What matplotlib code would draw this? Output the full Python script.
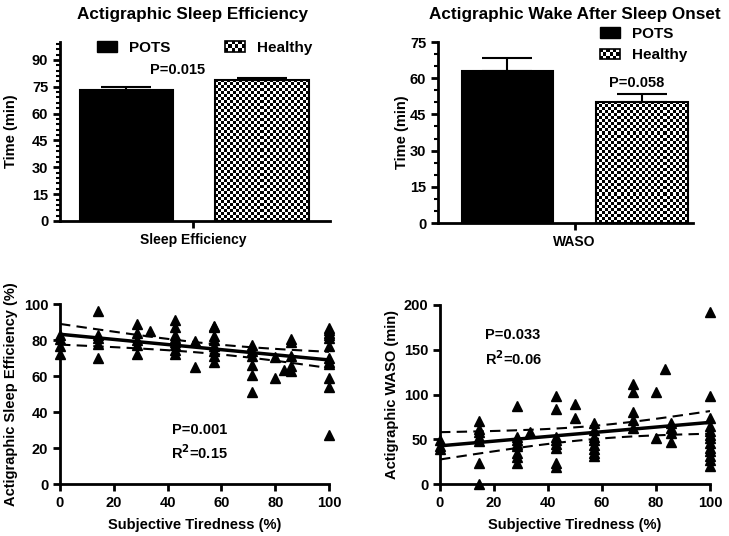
import numpy as np
import matplotlib
matplotlib.use('Agg')
import matplotlib.pyplot as plt
from matplotlib.patches import Rectangle, Patch
from matplotlib.legend_handler import HandlerBase
from matplotlib.ticker import MultipleLocator

plt.rcParams['font.family'] = ['Liberation Sans', 'DejaVu Sans']
plt.rcParams['font.weight'] = 'bold'
plt.rcParams['axes.labelweight'] = 'bold'

# ---- data ----
groups = ['POTS', 'Healthy']
se_mean = [73.0, 79.0]
se_err = [2.0, 0.7]
se_p = 'P=0.015'
waso_mean = [63.0, 50.3]
waso_err = [5.5, 3.3]
waso_p = 'P=0.058'

# subjective tiredness (%) vs actigraphic sleep efficiency (%)
tired_se = ([0]*4 + [14.3]*5 + [28.6]*5 + [33.3] + [42.9]*8 + [50]*2 + [57.1]*8
            + [71.4]*6 + [80]*2 + [83.3] + [85.7]*5 + [100]*12)
sleep_eff = [83, 80.5, 76.5, 72.4,
             96, 83, 81, 78, 70,
             89, 84, 80, 77, 72,
             85,
             91, 87, 83, 81, 79, 77.4, 74.6, 72.4,
             79.6, 65,
             88, 87, 82, 80, 76.5, 74, 71, 67.6,
             77.4, 73.7, 71.3, 66.3, 60.7, 51,
             70.6, 59,
             63.5,
             80.5, 78.7, 71, 65.4, 62.6,
             86.7, 85.4, 84, 82.6, 81, 76.5, 70, 68, 66.8, 59, 54, 27]

# subjective tiredness (%) vs actigraphic WASO (min)
tired_waso = ([0]*3 + [14.3]*7 + [28.6]*8 + [33.3] + [42.9]*8 + [50]*2 + [57.1]*8
              + [71.4]*5 + [80]*2 + [83.3] + [85.7]*4 + [100]*13)
waso = [49, 42, 39,
        70, 62, 58, 53, 48, 24, 0,
        87.7, 53, 49.4, 45, 42, 34.6, 30, 23.4,
        58,
        98.5, 84, 53, 49.4, 45, 40, 23.4, 18.6,
        89.6, 74.3,
        68, 60.6, 53, 49.4, 43.9, 39, 34.6, 30.9,
        111.5, 103, 80, 71.7, 62.5,
        103, 51.3,
        129,
        68, 62.5, 57, 46.5,
        191.8, 98.5, 73.6, 64.3, 58.7, 55, 51.3, 45.7, 40, 36.4, 30.9, 27, 19.7]


class CheckerHandler(HandlerBase):
    # legend box drawn as a small checkerboard
    def create_artists(self, legend, orig_handle, xdescent, ydescent,
                       width, height, fontsize, trans):
        arts = []
        nx, ny = 6, 3
        cw, ch = width / nx, height / ny
        for i in range(nx):
            for j in range(ny):
                fc = 'black' if (i + j) % 2 == 0 else 'white'
                arts.append(Rectangle((-xdescent + i*cw, -ydescent + j*ch), cw, ch,
                                      facecolor=fc, edgecolor='none', transform=trans))
        arts.append(Rectangle((-xdescent, -ydescent), width, height, facecolor='none',
                              edgecolor='black', lw=1.2, transform=trans))
        return arts


def style(ax):
    for s in ['top', 'right']:
        ax.spines[s].set_visible(False)
    for s in ['left', 'bottom']:
        ax.spines[s].set_linewidth(2)
    ax.tick_params(width=2, length=5, labelsize=10.5, direction='out')
    ax.tick_params(which='minor', width=1.5, length=3)


def bar_panel(ax, xs, width, means, errs, ymax, ystep, yminor, tick_x, tick_label):
    style(ax)
    ax.set_xlim(0, 1)
    ax.set_ylim(0, ymax)
    ax.bar(xs[0], means[0], width, color='black', edgecolor='black', lw=1.5, zorder=2)
    ax.bar(xs[1], means[1], width, color='white', edgecolor='none', zorder=2)
    # checkerboard fill for the healthy bar
    x0, x1 = xs[1] - width/2, xs[1] + width/2
    p0 = ax.transData.transform((x0, 0))
    p1 = ax.transData.transform((x1, means[1]))
    nx = int(round((p1[0] - p0[0]) / 3.0))
    ny = int(round((p1[1] - p0[1]) / 3.0))
    checker = np.indices((ny, nx)).sum(axis=0) % 2
    ax.imshow(checker, cmap='gray', extent=(x0, x1, 0, means[1]), interpolation='nearest',
              aspect='auto', zorder=3)
    ax.bar(xs[1], means[1], width, color='none', edgecolor='black', lw=1.5, zorder=4)
    for x, m, e in zip(xs, means, errs):
        ax.errorbar(x, m, yerr=[[0], [e]], color='black', lw=1.5, capsize=18,
                    capthick=1.5, zorder=5)
    ax.set_xlim(0, 1)
    ax.set_ylim(0, ymax)
    ax.set_yticks(np.arange(0, ymax, ystep) if ymax % ystep else np.arange(0, ymax + 1, ystep))
    ax.yaxis.set_minor_locator(MultipleLocator(yminor))
    ax.set_xticks([tick_x])
    ax.set_xticklabels([tick_label], fontsize=10)
    ax.set_ylabel('Time (min)', fontsize=10.5)


fig = plt.figure(figsize=(7.29, 5.36), dpi=100)
W, H = 729.0, 536.0


def axes_px(l, t, r, b):
    return fig.add_axes([l / W, 1 - b / H, (r - l) / W, (b - t) / H])


legend_handles = [Patch(facecolor='black', edgecolor='black'), Patch(facecolor='white')]
handler_map = {legend_handles[1]: CheckerHandler()}

# top left: sleep efficiency bars
ax1 = axes_px(60, 42, 330, 221)
bar_panel(ax1, [0.246, 0.748], 0.345, se_mean, se_err, 100, 15, 3, 0.493, 'Sleep Efficiency')
ax1.yaxis.set_label_coords(-0.155, 0.5)
ax1.text(0.437, 84.5, se_p, ha='center', va='center', fontsize=10.5)
ax1.legend(legend_handles, groups, handler_map=handler_map, loc='upper left',
           bbox_to_anchor=(0.085, 1.085), ncol=2, frameon=False, fontsize=11,
           handlelength=1.3, handleheight=0.7, handletextpad=0.8, columnspacing=3.6)
fig.text(192 / W, 1 - 15 / H, 'Actigraphic Sleep Efficiency', ha='center', va='center',
         fontsize=12.3)

# top right: WASO bars
ax2 = axes_px(438, 42, 693, 223)
bar_panel(ax2, [0.272, 0.8], 0.357, waso_mean, waso_err, 75, 15, 5, 0.536, 'WASO')
ax2.yaxis.set_label_coords(-0.115, 0.5)
ax2.text(0.78, 58, waso_p, ha='center', va='center', fontsize=10.5)
ax2.legend(legend_handles, groups, handler_map=handler_map, loc='upper left',
           bbox_to_anchor=(0.58, 1.16), ncol=1, frameon=False, fontsize=11,
           handlelength=1.3, handleheight=0.7, handletextpad=0.8, labelspacing=0.5)
fig.text(575 / W, 1 - 15 / H, 'Actigraphic Wake After Sleep Onset', ha='center',
         va='center', fontsize=12.3)


def scatter_panel(ax, x, y, ymax, ystep, ylabel, ptxt, pos):
    style(ax)
    x = np.asarray(x, float)
    y = np.asarray(y, float)
    ax.plot(x, y, '^', color='black', ms=6.5, clip_on=False, zorder=3)
    # least squares fit with 95% confidence band
    b, a = np.polyfit(x, y, 1)
    xx = np.linspace(0, 100, 101)
    n = len(x)
    resid = y - (a + b * x)
    s = np.sqrt(np.sum(resid ** 2) / (n - 2))
    se = s * np.sqrt(1.0 / n + (xx - x.mean()) ** 2 / np.sum((x - x.mean()) ** 2))
    fit = a + b * xx
    ax.plot(xx, fit, color='black', lw=2.5, zorder=4)
    ax.plot(xx, fit + 2.0 * se, color='black', lw=1.5, ls=(0, (5, 3)), zorder=4)
    ax.plot(xx, fit - 2.0 * se, color='black', lw=1.5, ls=(0, (5, 3)), zorder=4)
    ax.set_xlim(0, 100)
    ax.set_ylim(0, ymax)
    ax.set_xticks(np.arange(0, 101, 20))
    ax.set_yticks(np.arange(0, ymax + 1, ystep))
    ax.set_xlabel('Subjective Tiredness (%)', fontsize=10.5)
    ax.xaxis.set_label_coords(0.5, -0.19)
    ax.set_ylabel(ylabel, fontsize=10.5)
    ax.text(pos[0], pos[1], ptxt, ha='center', va='center', fontsize=10.5, linespacing=1.45)


ax3 = axes_px(60, 304, 329, 484)
scatter_panel(ax3, tired_se, sleep_eff, 100, 20, 'Actigraphic Sleep Efficiency (%)',
              'P=0.001\nR$^{\\mathbf{2}}$=0.15', (52, 23))
ax3.yaxis.set_label_coords(-0.155, 0.5)

ax4 = axes_px(440, 305, 710, 484)
scatter_panel(ax4, tired_waso, waso, 200, 50, 'Actigraphic WASO (min)',
              'P=0.033\nR$^{\\mathbf{2}}$=0.06', (27, 152))
ax4.yaxis.set_label_coords(-0.15, 0.5)

fig.savefig('out.png', dpi=100)
